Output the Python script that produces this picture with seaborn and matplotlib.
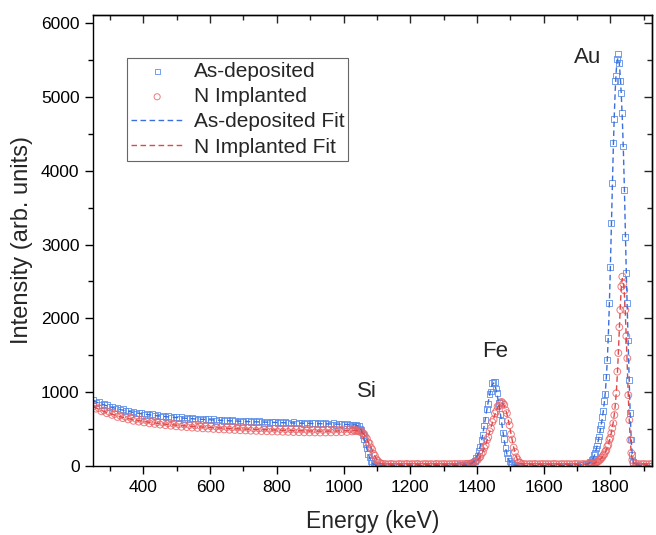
import numpy as np
import matplotlib
matplotlib.use("Agg")
import matplotlib.pyplot as plt
import seaborn as sns
from matplotlib.ticker import MultipleLocator

# energy grid (keV) for each region of the spectrum
e_bulk = np.arange(250, 1030, 8)
e_si = np.arange(1030, 1122, 4)
e_gap1 = np.arange(1126, 1370, 8)
e_fe = np.arange(1370, 1538, 4)
e_gap2 = np.arange(1542, 1740, 8)
e_au = np.arange(1740, 1870, 3)
e_tail = np.arange(1876, 1926, 8)

# --- As-deposited, measured ---
dep_bulk = [895, 858, 866, 829, 842, 822, 796, 806, 779, 788, 757, 768, 744, 752, 726, 739,
            712, 722, 716, 694, 710, 689, 700, 676, 692, 670, 681, 662, 676, 651, 668, 663,
            645, 660, 641, 655, 636, 649, 643, 627, 645, 624, 638, 632, 618, 635, 614, 628,
            621, 608, 626, 606, 619, 612, 600, 618, 598, 611, 607, 593, 610, 591, 605, 601,
            587, 604, 585, 599, 594, 581, 598, 580, 593, 589, 576, 594, 574, 588, 584, 571,
            589, 569, 583, 580, 566, 584, 564, 578, 575, 561, 579, 560, 573, 570, 557, 574,
            556, 562]
dep_si = [561, 549, 556, 541, 538, 509, 484, 421, 366, 290, 240, 166, 118, 70, 44, 22, 15, 7, 5, 4, 3, 2, 3]
dep_gap1 = [4, 6, 3, 5, 7, 4, 3, 6, 5, 4, 7, 3, 5, 6, 4, 5, 3, 6, 4, 7, 5, 4, 6, 3, 5, 6, 8, 7, 10, 9, 12]
dep_fe = [14, 12, 25, 28, 45, 60, 72, 115, 140, 210, 255, 352, 420, 548, 625, 770, 840, 975,
          1010, 1120, 1142, 1135, 1050, 985, 855, 700, 612, 455, 368, 240, 180, 104, 72,
          38, 28, 15, 12, 7, 5, 6, 3, 5]
dep_gap2 = [4, 3, 5, 6, 3, 4, 5, 3, 6, 4, 5, 3, 4, 6, 5, 3, 4, 5, 6, 4, 8, 12, 18, 26, 35]
dep_au = [52, 58, 88, 102, 148, 172, 236, 278, 356, 398, 498, 552, 668, 742, 880, 972,
          1210, 1436, 1730, 2205, 2700, 3288, 3830, 4373, 4702, 5217, 5290, 5511, 5580,
          5456, 5217, 5050, 4779, 4327, 3740, 3107, 2611, 2205, 1700, 1165, 714, 360, 150, 50]
dep_tail = [12, 6, 4, 3, 5, 4, 3]

# --- N implanted, measured ---
imp_bulk = [812, 776, 785, 741, 752, 715, 731, 692, 705, 664, 683, 648, 667, 631, 652, 612,
            638, 601, 624, 590, 615, 578, 603, 570, 594, 561, 588, 553, 579, 546, 572, 538,
            566, 531, 561, 527, 555, 520, 551, 516, 546, 510, 542, 507, 538, 502, 534, 498,
            531, 495, 527, 491, 524, 488, 521, 484, 518, 481, 515, 478, 512, 476, 509, 473,
            507, 470, 505, 468, 503, 466, 501, 464, 499, 462, 497, 460, 495, 458, 493, 456,
            491, 455, 490, 454, 489, 453, 489, 454, 490, 455, 491, 457, 493, 459, 495, 461,
            497, 468]
imp_si = [489, 474, 486, 472, 481, 462, 470, 441, 432, 392, 371, 318, 306, 250, 222, 165,
          138, 92, 74, 47, 40, 29, 28]
imp_gap1 = [26, 22, 28, 24, 21, 27, 25, 23, 29, 22, 26, 24, 28, 21, 25, 27, 23, 26, 22, 28,
            24, 25, 27, 23, 26, 24, 28, 25, 27, 26, 29]
imp_fe = [24, 30, 27, 35, 33, 48, 52, 72, 80, 110, 122, 165, 188, 245, 280, 352, 390, 470,
          512, 595, 630, 712, 740, 805, 815, 858, 868, 850, 828, 756, 715, 612, 552,
          430, 358, 250, 192, 118, 88, 50, 42, 28]
imp_gap2 = [27, 23, 26, 24, 28, 22, 25, 27, 24, 26, 23, 28, 25, 22, 27, 24, 26, 25, 23, 28,
            26, 24, 27, 25, 28]
imp_au = [24, 29, 27, 34, 33, 44, 45, 58, 62, 81, 86, 108, 118, 145, 158, 195, 210, 262,
          285, 352, 380, 443, 512, 578, 690, 804, 985, 1278, 1530, 1880, 2114, 2430, 2565,
          2470, 2380, 2114, 1760, 1459, 960, 623, 352, 176, 81, 40]
imp_tail = [30, 26, 24, 27, 23, 25, 26]

# --- fitted curves ---
e_bulk_fit = np.arange(250, 1030, 20)
e_gap1_fit = [1126, 1200, 1280, 1366]
e_gap2_fit = [1542, 1620, 1700, 1720, 1734]
e_tail_fit = [1876, 1924]

dep_bulk_fit = [880, 846, 816, 789, 765, 744, 726, 711, 698, 686, 676, 667, 659, 652, 645,
                639, 633, 628, 623, 618, 614, 610, 606, 603, 599, 596, 593, 590, 588, 585,
                583, 580, 578, 575, 573, 571, 568, 566, 563]
dep_si_fit = [560, 557, 553, 546, 535, 515, 480, 425, 360, 295, 232, 170, 115, 72, 42, 24,
              14, 8, 5, 4, 3, 3, 3]
dep_gap1_fit = [3, 3, 4, 10]
dep_fe_fit = [12, 16, 22, 30, 42, 57, 78, 110, 150, 205, 270, 345, 440, 550, 660, 770, 870,
              960, 1040, 1100, 1125, 1100, 1020, 930, 830, 715, 590, 465, 345, 240, 160,
              100, 62, 40, 26, 17, 11, 8, 6, 5, 4, 4]
dep_gap2_fit = [4, 4, 9, 17, 32]
dep_au_fit = [45, 62, 82, 108, 140, 180, 228, 283, 345, 412, 485, 565, 650, 745, 860, 1000,
              1190, 1440, 1760, 2170, 2660, 3210, 3780, 4310, 4760, 5120, 5370, 5500, 5530,
              5450, 5270, 5020, 4700, 4300, 3800, 3200, 2600, 2080, 1600, 1100, 660, 330, 140, 50]
dep_tail_fit = [12, 3]

imp_bulk_fit = [805, 760, 724, 695, 668, 646, 627, 611, 597, 585, 574, 564, 556, 548, 541,
                535, 529, 524, 519, 514, 510, 505, 502, 498, 495, 492, 489, 486, 484, 481,
                479, 477, 474, 473, 472, 472, 473, 475, 478]
imp_si_fit = [481, 481, 480, 478, 475, 468, 458, 445, 425, 398, 365, 325, 300, 258, 215, 172,
              132, 98, 70, 50, 38, 31, 27]
imp_gap1_fit = [25, 24, 24, 25]
imp_fe_fit = [26, 27, 29, 32, 37, 44, 54, 67, 83, 103, 128, 158, 194, 237, 286, 340, 398,
              458, 520, 582, 642, 698, 748, 790, 823, 845, 852, 843, 815, 768, 703, 625,
              538, 440, 345, 258, 185, 125, 82, 55, 38, 30]
imp_gap2_fit = [25, 24, 24, 25, 25]
imp_au_fit = [25, 26, 28, 31, 35, 40, 47, 55, 65, 76, 89, 104, 121, 140, 162, 188, 218, 252,
              292, 338, 390, 450, 520, 600, 700, 830, 1000, 1230, 1520, 1850, 2170, 2420,
              2540, 2500, 2340, 2070, 1720, 1330, 940, 600, 340, 165, 72, 35]
imp_tail_fit = [27, 25]

peak_labels = ["Si", "Fe", "Au"]
peak_label_x = [1070, 1454, 1733]
peak_label_y = [1010, 1545, 5528]

energy = np.concatenate([e_bulk, e_si, e_gap1, e_fe, e_gap2, e_au, e_tail])
dep = np.concatenate([dep_bulk, dep_si, dep_gap1, dep_fe, dep_gap2, dep_au, dep_tail])
imp = np.concatenate([imp_bulk, imp_si, imp_gap1, imp_fe, imp_gap2, imp_au, imp_tail])
energy_fit = np.concatenate([e_bulk_fit, e_si, e_gap1_fit, e_fe, e_gap2_fit, e_au, e_tail_fit])
dep_fit = np.concatenate([dep_bulk_fit, dep_si_fit, dep_gap1_fit, dep_fe_fit, dep_gap2_fit,
                          dep_au_fit, dep_tail_fit])
imp_fit = np.concatenate([imp_bulk_fit, imp_si_fit, imp_gap1_fit, imp_fe_fit, imp_gap2_fit,
                          imp_au_fit, imp_tail_fit])

sns.set_theme(style="ticks")
plt.rcParams["font.family"] = ["Liberation Sans", "DejaVu Sans"]

blue_pt = "#5b8ee8"
red_pt = "#ea6468"
blue_ln = "#3a6fdc"
red_ln = "#e04848"

fig = plt.figure(figsize=(6.56, 5.35), dpi=100)
ax = fig.add_axes([0.1424, 0.129, 0.8515, 0.843])

sns.scatterplot(x=energy, y=dep, ax=ax, marker="s", s=17, color="none",
                edgecolor=blue_pt, linewidth=0.7, alpha=0.85, label="As-deposited")
sns.scatterplot(x=energy, y=imp, ax=ax, marker="o", s=24, color="none",
                edgecolor=red_pt, linewidth=0.7, alpha=0.85, label="N Implanted")
sns.lineplot(x=energy_fit, y=dep_fit, ax=ax, color=blue_ln, linewidth=1.0,
             linestyle=(0, (4, 2.5)), sort=False, estimator=None, label="As-deposited Fit")
sns.lineplot(x=energy_fit, y=imp_fit, ax=ax, color=red_ln, linewidth=1.0,
             linestyle=(0, (4, 2.5)), sort=False, estimator=None, label="N Implanted Fit")

for lab, lx, ly in zip(peak_labels, peak_label_x, peak_label_y):
    ax.text(lx, ly, lab, fontsize=16, ha="center", va="center")

ax.set_xlim(250, 1925)
ax.set_ylim(0, 6110)
ax.xaxis.set_major_locator(MultipleLocator(200))
ax.xaxis.set_minor_locator(MultipleLocator(100))
ax.yaxis.set_major_locator(MultipleLocator(1000))
ax.yaxis.set_minor_locator(MultipleLocator(500))
ax.set_xticks([400, 600, 800, 1000, 1200, 1400, 1600, 1800])
ax.tick_params(which="both", direction="out", width=1.0, colors="black", labelsize=12.5, pad=4)
ax.tick_params(which="major", length=6)
ax.tick_params(which="minor", length=3.5)

top = ax.secondary_xaxis("top")
top.xaxis.set_major_locator(MultipleLocator(200))
top.xaxis.set_minor_locator(MultipleLocator(100))
top.tick_params(which="both", direction="in", labeltop=False, width=1.0)
top.tick_params(which="major", length=6)
top.tick_params(which="minor", length=3.5)
right = ax.secondary_yaxis("right")
right.yaxis.set_major_locator(MultipleLocator(1000))
right.yaxis.set_minor_locator(MultipleLocator(500))
right.tick_params(which="both", direction="in", labelright=False, width=1.0)
right.tick_params(which="major", length=6)
right.tick_params(which="minor", length=3.5)

for side in ["left", "bottom", "top", "right"]:
    ax.spines[side].set_linewidth(1.0)
    ax.spines[side].set_color("black")
top.spines["top"].set_linewidth(1.0)
right.spines["right"].set_linewidth(1.0)

ax.set_xlabel("Energy (keV)", fontsize=16.5, labelpad=11)
ax.set_ylabel("Intensity (arb. units)", fontsize=17)
ax.yaxis.set_label_coords(-0.108, 0.5)

leg = ax.legend(loc="upper left", bbox_to_anchor=(0.06, 0.905), fontsize=15,
                frameon=True, fancybox=False, framealpha=1, edgecolor="#666666",
                borderpad=0.2, labelspacing=0.3, handlelength=2.5, handletextpad=0.5,
                borderaxespad=0, scatterpoints=1, markerscale=0.9)
leg.get_frame().set_linewidth(0.8)

fig.savefig("out.png", dpi=100)
